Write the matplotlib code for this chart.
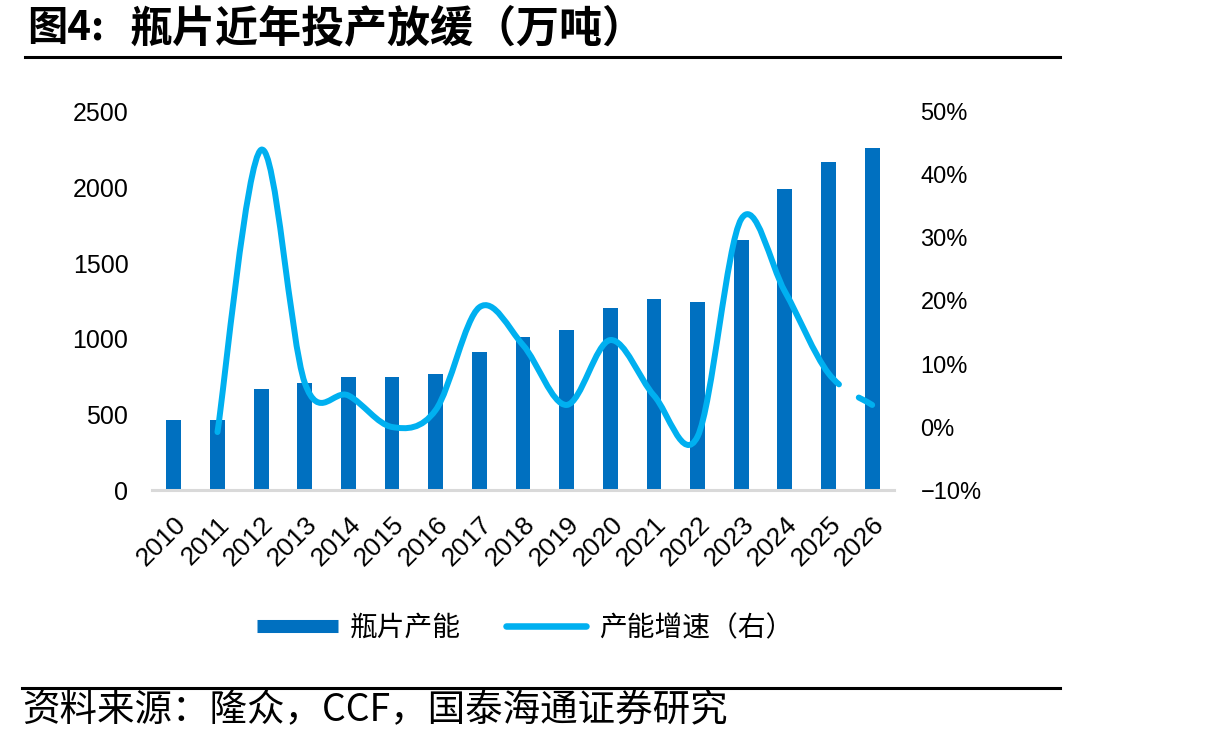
import numpy as np
import matplotlib
matplotlib.use("Agg")
import matplotlib.pyplot as plt
from matplotlib.path import Path
from matplotlib.patches import PathPatch
from matplotlib.lines import Line2D
from matplotlib.ticker import FuncFormatter

plt.rcParams['font.family'] = ['Liberation Sans', 'Noto Sans CJK SC', 'DejaVu Sans']

# data
years = ['2010', '2011', '2012', '2013', '2014', '2015', '2016', '2017', '2018',
         '2019', '2020', '2021', '2022', '2023', '2024', '2025', '2026']
capacity = [460, 460, 665, 710, 750, 750, 770, 915, 1015,
            1060, 1205, 1265, 1245, 1655, 1990, 2170, 2260]          # 万吨
growth = [np.nan, -0.8, 44.0, 7.0, 5.0, 0.0, 2.7, 19.0, 13.0,
          3.5, 13.8, 5.0, -1.5, 33.0, 21.5, 8.5, 3.5]                  # %

bar_color = '#0070C0'
line_color = '#00B0F0'
cjk = ['Noto Sans CJK SC', 'DejaVu Sans']


def smooth_segments(xs, ys):
    # excel-like smoothed line: cubic bezier per segment (catmull-rom controls)
    pts = np.column_stack([xs, ys])
    n = len(pts)
    segs = []
    for i in range(n - 1):
        p0, p3 = pts[i], pts[i + 1]
        pm, pp = pts[max(i - 1, 0)], pts[min(i + 2, n - 1)]
        segs.append([p0, p0 + (p3 - pm) / 6, p3 - (pp - p0) / 6, p3])
    return segs


def split(seg, t):
    p0, p1, p2, p3 = seg
    a, b, c = p0 + (p1 - p0) * t, p1 + (p2 - p1) * t, p2 + (p3 - p2) * t
    d, e = a + (b - a) * t, b + (c - b) * t
    f = d + (e - d) * t
    return [p0, a, d, f], [f, e, c, p3]


def bezier_path(segs):
    verts = [segs[0][0]]
    codes = [Path.MOVETO]
    for s in segs:
        verts += [s[1], s[2], s[3]]
        codes += [Path.CURVE4] * 3
    return Path(np.array(verts), codes)


fig = plt.figure(figsize=(12.17, 7.41), dpi=100)
ax = fig.add_axes([0.1249, 0.3387, 0.6097, 0.5102])
x = np.arange(len(years))
ax.bar(x, capacity, width=0.34, color=bar_color, zorder=2)
ax.set_xlim(-0.5, len(years) - 0.5)
ax.set_ylim(0, 2500)
ax.set_yticks([0, 500, 1000, 1500, 2000, 2500])
ax.set_xticks(x)
ax.set_xticklabels(years, rotation=45, ha='right', va='top', rotation_mode='anchor', fontsize=19)
ax.tick_params(axis='x', length=0, pad=16)
ax.tick_params(axis='y', length=0, pad=17, labelsize=18)
for s in ['top', 'left', 'right']:
    ax.spines[s].set_visible(False)
ax.spines['bottom'].set_color('#D9D9D9')
ax.spines['bottom'].set_linewidth(2.2)

ax2 = ax.twinx()
ax2.set_ylim(-0.1, 0.5)
ax2.set_yticks([-0.1, 0, 0.1, 0.2, 0.3, 0.4, 0.5])
ax2.yaxis.set_major_formatter(FuncFormatter(lambda v, p: f"{v * 100:.0f}%".replace('-', '\u2212')))
ax2.tick_params(axis='y', length=0, pad=19, labelsize=17)
for s in ax2.spines.values():
    s.set_visible(False)

g = np.array(growth) / 100
ok = ~np.isnan(g)
segs = smooth_segments(x[ok].astype(float), g[ok])
head, _ = split(segs[-1], 0.22)
_, tail = split(segs[-1], 0.62)
for path in [bezier_path(segs[:-1] + [head]), bezier_path([tail])]:
    ax2.add_patch(PathPatch(path, facecolor='none', edgecolor=line_color, lw=4.3,
                            capstyle='round', joinstyle='round', zorder=3))

# legend
handles = [Line2D([], [], color=bar_color, lw=9.4, solid_capstyle='butt'),
           Line2D([], [], color=line_color, lw=4.7, solid_capstyle='round')]
fig.legend(handles, ['瓶片产能', '产能增速（右）'], loc='center', ncol=2,
           bbox_to_anchor=(525 / 1217, 1 - 628 / 741), frameon=False,
           prop={'family': cjk, 'size': 20}, handlelength=2.9,
           handletextpad=0.45, columnspacing=1.6, borderpad=0)

# title, rules and source
fig.text(27 / 1217, 1 - 28 / 741, '图4:', family=cjk, fontsize=29, fontweight='bold', va='center')
fig.text(130 / 1217, 1 - 28 / 741, '瓶片近年投产放缓（万吨）', family=cjk, fontsize=31,
         fontweight='bold', va='center')
fig.add_artist(Line2D([25 / 1217, 1060 / 1217], [1 - 57 / 741] * 2, color='black', lw=2.2))
fig.add_artist(Line2D([22 / 1217, 1060 / 1217], [1 - 688 / 741] * 2, color='black', lw=2.2))
fig.text(22 / 1217, 1 - 711 / 741, '资料来源：隆众，CCF，国泰海通证券研究', family=cjk,
         fontsize=27, va='center')

fig.savefig('out.png', dpi=100)
